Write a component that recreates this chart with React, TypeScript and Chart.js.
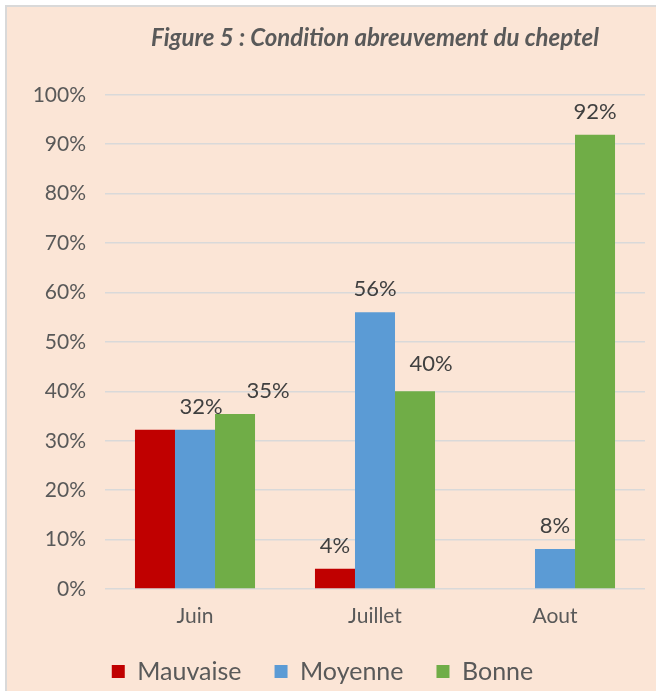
import React, { useEffect, useRef } from "react";
import { Chart, registerables } from "chart.js";

Chart.register(...registerables);

const categories = ["Juin", "Juillet", "Aout"];
const seriesNames = ["Mauvaise", "Moyenne", "Bonne"];
const mauvaise = [32.2, 4.1, 0];
const moyenne = [32.2, 56, 8.1];
const bonne = [35.4, 40, 91.9];
const yTicks = [0, 10, 20, 30, 40, 50, 60, 70, 80, 90, 100];
const titleText = "Figure 5 : Condition abreuvement du cheptel";

// which data labels are shown (per series, per category)
const labelShown = [
  [false, true, false],
  [true, true, true],
  [true, true, true],
];
// manual label nudges (px) as in the original figure
const labelDx = [
  [0, 0, 0],
  [6, 0, 0],
  [33, 16, 0],
];
const labelDy = [
  [0, 0, 0],
  [0, 0, 0],
  [0, -4, 0],
];

const COLORS = ["#C00000", "#5B9BD5", "#70AD47"];
const FONT = "Lato";

export default function App() {
  const ref = useRef<HTMLCanvasElement | null>(null);

  useEffect(() => {
    if (!ref.current) return;
    const seriesValues = [mauvaise, moyenne, bonne];
    const labelPlugin = {
      id: "valueLabels",
      afterDatasetsDraw(chart: any) {
        const ctx = chart.ctx;
        ctx.save();
        ctx.font = `22px ${FONT}`;
        ctx.fillStyle = "#404040";
        ctx.textAlign = "center";
        ctx.textBaseline = "alphabetic";
        chart.data.datasets.forEach((ds: any, i: number) => {
          const meta = chart.getDatasetMeta(i);
          meta.data.forEach((el: any, j: number) => {
            if (!labelShown[i][j]) return;
            const v = ds.data[j];
            ctx.fillText(
              Math.round(v) + "%",
              el.x + labelDx[i][j],
              el.y - 16 + labelDy[i][j]
            );
          });
        });
        ctx.restore();
      },
    };

    const chart = new Chart(ref.current, {
      type: "bar",
      data: {
        labels: categories,
        datasets: seriesNames.map((name, i) => ({
          label: name,
          data: seriesValues[i],
          backgroundColor: COLORS[i],
          borderWidth: 0,
          categoryPercentage: 0.667,
          barPercentage: 1,
        })),
      },
      options: {
        responsive: false,
        animation: false,
        layout: { padding: { left: 0, right: 11, top: 0, bottom: -3 } },
        plugins: {
          title: {
            display: true,
            text: titleText,
            fullSize: false,
            color: "#595959",
            font: { family: FONT, size: 24, weight: "bold", style: "italic" },
            padding: { top: 24, bottom: 42 },
          },
          legend: {
            position: "bottom",
            labels: {
              boxWidth: 13,
              boxHeight: 13,
              padding: 33,
              color: "#595959",
              font: { family: FONT, size: 25 },
            },
          },
          tooltip: { enabled: false },
        },
        scales: {
          x: {
            afterFit(scale: any) {
              scale.height = 37;
            },
            grid: { display: false, drawTicks: false },
            border: { display: false },
            ticks: {
              color: "#595959",
              font: { family: FONT, size: 21 },
              padding: 15,
            },
          },
          y: {
            min: 0,
            max: 100,
            afterFit(scale: any) {
              scale.width = 105;
            },
            afterBuildTicks(scale: any) {
              scale.ticks = yTicks.map((v) => ({ value: v }));
            },
            grid: { color: "#D9D9D9", lineWidth: 1.5, drawTicks: false },
            border: { display: false },
            ticks: {
              color: "#595959",
              font: { family: FONT, size: 21 },
              padding: 19,
              callback: (v: any) => v + "%",
            },
          },
        },
      },
      plugins: [labelPlugin],
    });
    return () => chart.destroy();
  }, []);

  return (
    <div style={{ position: "absolute", left: 0, top: 0, width: 656, height: 691, background: "#FFFFFF", overflow: "hidden" }}>
      <div
        style={{
          position: "absolute",
          left: 5,
          top: 5,
          width: 660,
          height: 700,
          background: "#FBE5D6",
          borderLeft: "2px solid #D9D9D9",
          borderTop: "2px solid #D9D9D9",
          boxSizing: "border-box",
        }}
      />
      <canvas ref={ref} width={656} height={691} style={{ position: "absolute", left: 0, top: 0 }} />
    </div>
  );
}
